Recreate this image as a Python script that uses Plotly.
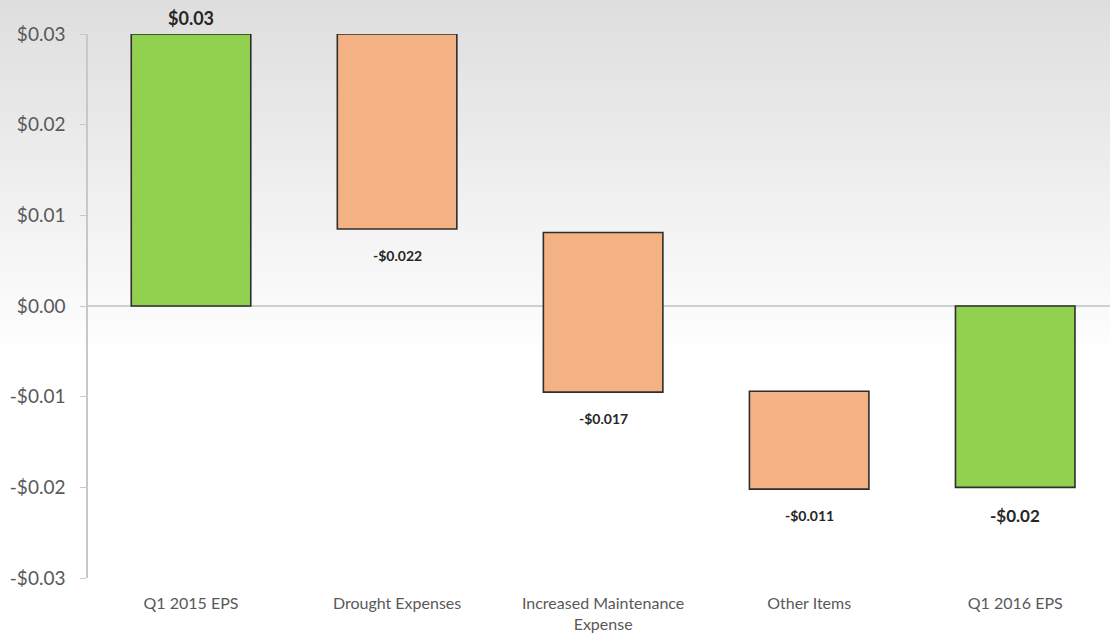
import plotly.graph_objects as go

categories = ["Q1 2015 EPS", "Drought Expenses", "Increased Maintenance<br>Expense", "Other Items", "Q1 2016 EPS"]
labels = ["$0.03", "-$0.022", "-$0.017", "-$0.011", "-$0.02"]
bar_low = [0.0, 0.0085, -0.0095, -0.0202, -0.0200]
bar_high = [0.030, 0.030, 0.0081, -0.0094, 0.0]
is_total = [True, False, False, False, True]
tick_vals = [0.03, 0.02, 0.01, 0.0, -0.01, -0.02, -0.03]
tick_text = ["$0.03", "$0.02", "$0.01", "$0.00", "-$0.01", "-$0.02", "-$0.03"]

GREEN = "#92d050"
ORANGE = "#f4b183"

x_idx = list(range(len(categories)))
fig = go.Figure()
fig.add_trace(go.Bar(
    x=x_idx,
    y=[h - l for h, l in zip(bar_high, bar_low)],
    base=bar_low,
    width=0.58,
    marker=dict(color=[GREEN if t else ORANGE for t in is_total],
                line=dict(color="#2e2e2e", width=1.6)),
    hoverinfo="skip",
))

# data labels
for i, (lab, lo, hi, tot) in enumerate(zip(labels, bar_low, bar_high, is_total)):
    if i == 0:
        fig.add_annotation(x=i, y=hi, text="<b>" + lab + "</b>", showarrow=False,
                           yanchor="bottom", yshift=3, font=dict(size=18, color="#262626"))
    else:
        fig.add_annotation(x=i, y=lo, text="<b>" + lab + "</b>", showarrow=False,
                           yanchor="top", yshift=-16,
                           font=dict(size=17 if tot else 14, color="#262626"))

# background gradient (style only)
shapes = []
n = 40
top_px = 34.0
plot_h = 544.0
grad_px = 360.0
for k in range(n):
    y_top_px = k * grad_px / n
    y_bot_px = (k + 1) * grad_px / n
    t = (k + 0.5) / n
    g = int(round(222 + (255 - 222) * t))
    shapes.append(dict(type="rect", xref="paper", yref="paper",
                       x0=-88 / 1022, x1=1.0,
                       y0=1 + (top_px - y_bot_px) / plot_h,
                       y1=1 + (top_px - y_top_px) / plot_h,
                       fillcolor=f"rgb({g},{g},{g})", line=dict(width=0), layer="below"))

fig.update_layout(
    width=1110, height=639,
    margin=dict(l=88, r=0, t=34, b=61),
    paper_bgcolor="white",
    plot_bgcolor="rgba(0,0,0,0)",
    showlegend=False,
    shapes=shapes,
    font=dict(family="Lato, 'Open Sans', sans-serif"),
    xaxis=dict(
        range=[-0.5, 4.46],
        tickvals=x_idx,
        ticktext=categories,
        showgrid=False, zeroline=False, showline=False,
        ticks="", ticklabelstandoff=14,
        tickfont=dict(size=16, color="#595959"),
        fixedrange=True,
    ),
    yaxis=dict(
        range=[-0.03, 0.03],
        tickvals=tick_vals,
        ticktext=tick_text,
        showgrid=False,
        zeroline=True, zerolinecolor="#cfcfcf", zerolinewidth=1.5,
        showline=True, linecolor="#c8c8c8", linewidth=1.5,
        ticks="outside", ticklen=6, tickcolor="#c8c8c8", tickwidth=1,
        ticklabelstandoff=11,
        tickfont=dict(size=19, color="#595959"),
        fixedrange=True,
    ),
)

fig.write_html("out.html")
